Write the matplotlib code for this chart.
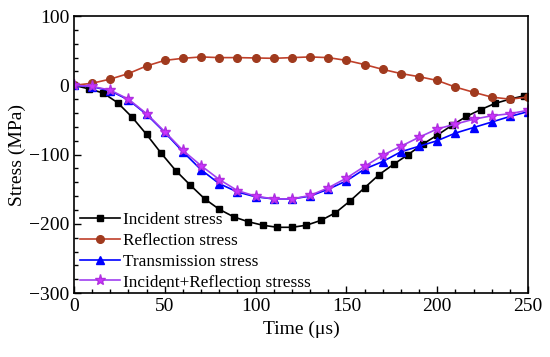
import numpy as np
import matplotlib
matplotlib.use("Agg")
import matplotlib.pyplot as plt
from matplotlib.ticker import MultipleLocator

plt.rcParams['font.family'] = ['Liberation Serif', 'DejaVu Serif']

# incident stress sampled every 8 us
t_inc = np.arange(0, 249, 8)
incident = [0, -5, -11, -25, -46, -71, -98, -123, -144, -164, -179, -190, -197, -202,
            -205, -205, -202, -195, -184, -167, -148, -129, -114, -100, -85, -72,
            -58, -45, -35, -26, -20, -15]

# other series sampled every 10 us
t = np.arange(0, 251, 10)
reflection = [0, 3, 9, 17, 28, 36, 39, 41, 40, 40, 39.5, 39, 40, 41, 40, 36, 30, 23,
              17, 12.5, 7, -2.5, -10, -17, -20, -17]
transmission = [0, -2, -8, -21, -42, -68, -96, -122, -142, -154, -161, -164, -164,
                -160, -150, -138, -121, -110, -96, -88, -80, -69, -61, -53, -45, -38]
inc_plus_ref = [0, -1.5, -7, -20, -41, -67, -94, -116, -136, -152, -160, -164, -164,
                -159, -148, -134, -117, -101, -88, -75, -63, -56, -49, -44, -41, -36]

fig = plt.figure(figsize=(5.5, 3.57), dpi=100)
ax = fig.add_axes([0.1345, 0.179, 0.8255, 0.776])

ax.plot(t_inc, incident, '-s', color='black', lw=1.2, ms=5, label='Incident stress')
ax.plot(t, reflection, '-o', color='#C0402A', mfc='#A03A1E', mec='#A03A1E', lw=1.2, ms=5.5,
        label='Reflection stress')
ax.plot(t, transmission, '-^', color='#0000FF', lw=1.2, ms=6, label='Transmission stress')
ax.plot(t, inc_plus_ref, '-*', color='#A040F0', mfc='#CC33FF', mec='#B030E0', lw=1.2, ms=8,
        label='Incident+Reflection stresss')

ax.set_xlim(0, 250)
ax.set_ylim(-300, 100)
ax.xaxis.set_major_locator(MultipleLocator(50))
ax.xaxis.set_minor_locator(MultipleLocator(10))
ax.yaxis.set_major_locator(MultipleLocator(100))
ax.yaxis.set_minor_locator(MultipleLocator(20))
ax.tick_params(which='both', direction='in', top=False, right=False, labelsize=14)
ax.tick_params(which='major', length=5, width=1)
ax.tick_params(which='minor', length=3, width=1)
for s in ax.spines.values():
    s.set_linewidth(1.2)

ax.set_xlabel('Time (\u03bcs)', fontsize=14)
ax.set_ylabel('Stress (MPa)', fontsize=14, labelpad=2)

ax.legend(loc='lower left', bbox_to_anchor=(0.008, 0.0), frameon=False, fontsize=12.4,
          handlelength=2.3, handletextpad=0.2, labelspacing=0.27,
          borderaxespad=0.05, borderpad=0.1)

fig.savefig('out.png', dpi=100)
